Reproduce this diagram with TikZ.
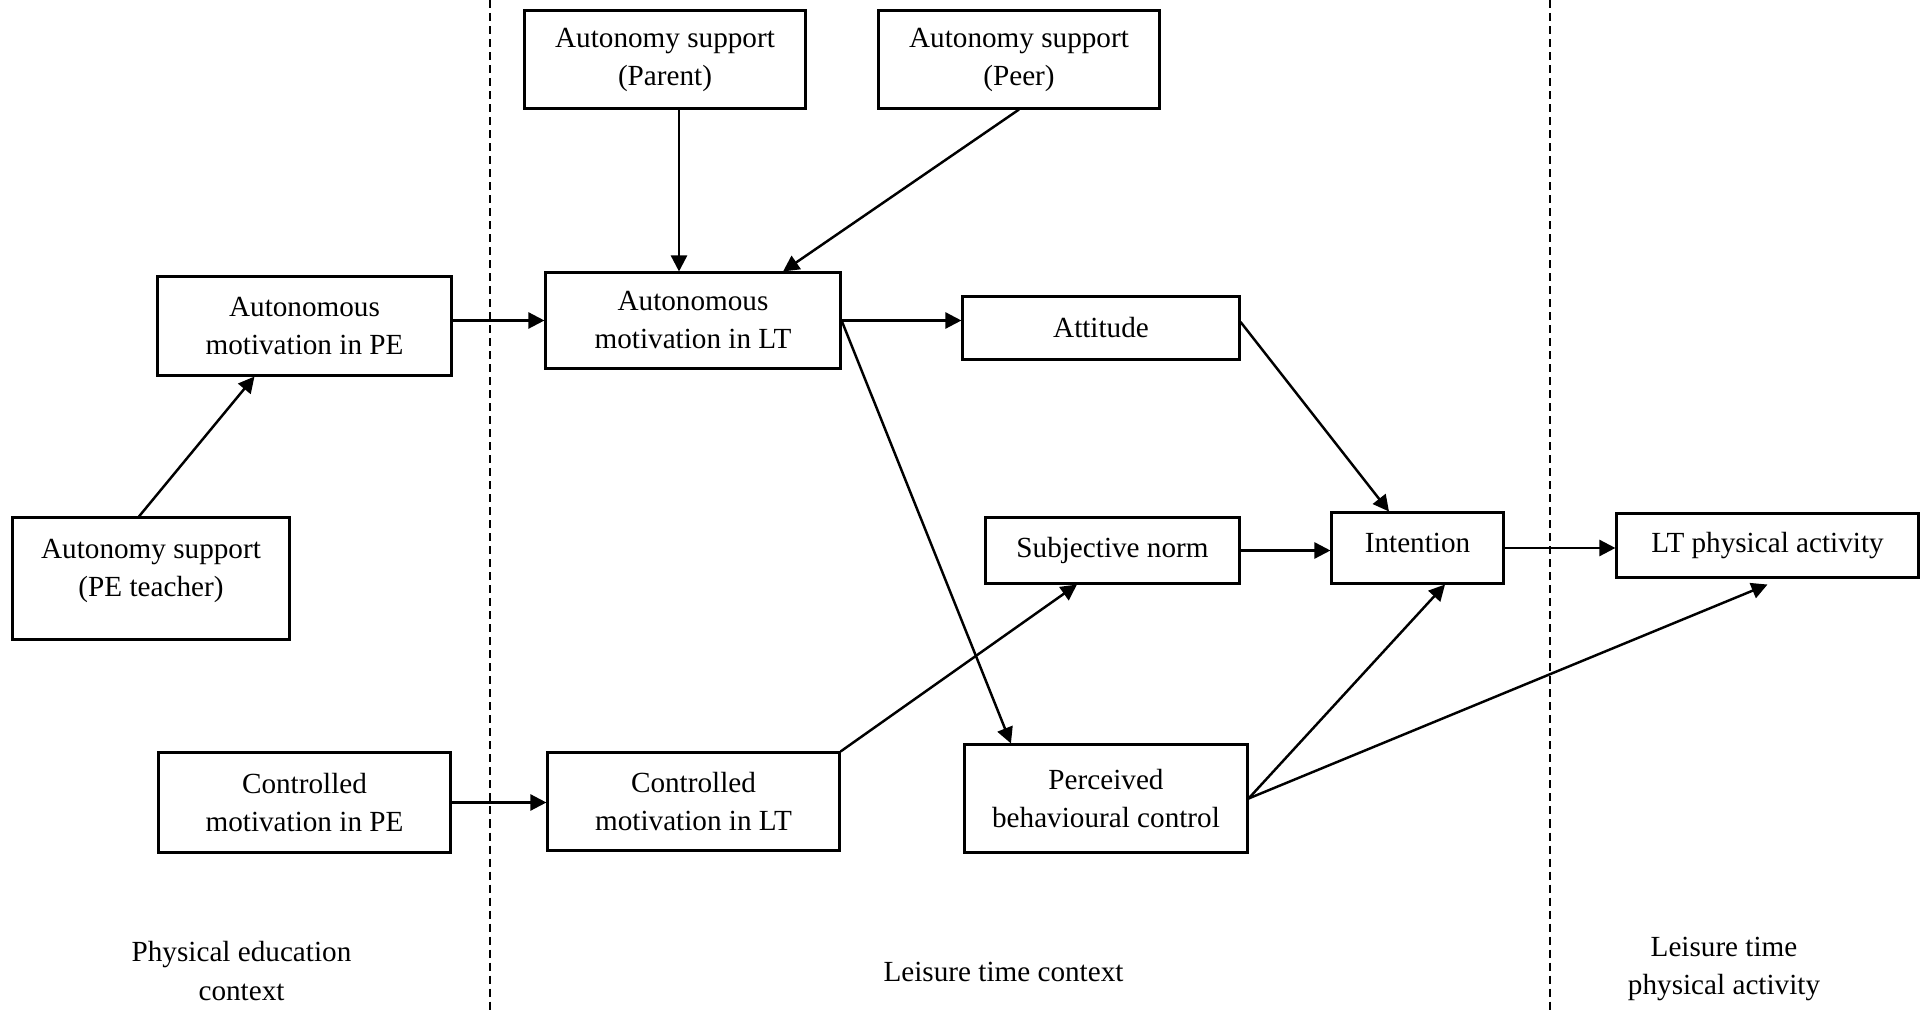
\documentclass[tikz,border=0pt]{standalone}
\usepackage{fontspec}
\setmainfont{Liberation Serif}
\usetikzlibrary{arrows.meta}

\begin{document}
\begin{tikzpicture}[x=0.01cm, y=-0.01cm]
% Styles
\tikzset{
    box/.style={draw, line width=0.85pt, align=center, inner sep=0pt,
        font=\fontsize{8.3}{10.8}\selectfont},
    arr/.style={line width=0.7pt, -{Triangle[length=0.16cm,width=0.16cm]}},
    sep/.style={line width=0.4pt, dash pattern=on 0.08cm off 0.05cm},
    ctx/.style={align=center, font=\fontsize{8.3}{10.9}\selectfont}
}
\useasboundingbox (0,0) rectangle (1921,1013);
% Context separators
\draw[sep] (490,0) -- (490,1013);
\draw[sep] (1550,0) -- (1550,1013);
% Boxes
\node[box, minimum width=2.81cm, minimum height=0.97cm] (par) at (665,59.5){Autonomy support\\(Parent)};
\node[box, minimum width=2.81cm, minimum height=0.97cm] (peer) at (1019,59.5){Autonomy support\\(Peer)};
\node[box, minimum width=2.93cm, minimum height=0.98cm] (ampe) at (304.5,326){Autonomous\\motivation in PE};
\node[box, minimum width=2.94cm, minimum height=0.95cm] (amlt) at (693,320.5){Autonomous\\motivation in LT};
\node[box, minimum width=2.76cm, minimum height=0.62cm] (att) at (1101,328){Attitude};
\node[box, minimum width=2.76cm, minimum height=1.21cm] (pet) at (151,578.5){Autonomy support\\(PE teacher)\\[-5pt]\mbox{}};
\node[box, minimum width=2.53cm, minimum height=0.65cm] (sn) at (1112.5,550.5){Subjective norm};
\node[box, minimum width=1.71cm, minimum height=0.70cm] (int) at (1417.5,548){Intention\\[-8pt]\mbox{}};
\node[box, minimum width=3.01cm, minimum height=0.63cm] (ltpa) at (1767.5,545.5){LT physical activity};
\node[box, minimum width=2.92cm, minimum height=0.99cm] (cmpe) at (304.5,802.5){Controlled\\motivation in PE};
\node[box, minimum width=2.91cm, minimum height=0.97cm] (cmlt) at (693.5,801.5){Controlled\\motivation in LT};
\node[box, minimum width=2.82cm, minimum height=1.07cm] (pbc) at (1106,798.5){Perceived\\behavioural control};
% Context labels
\node[ctx] (pectx) at (241.5,971){Physical education\\context};
\node[ctx] (ltctx) at (1003.5,972){Leisure time context};
\node[ctx] (ltpactx) at (1724,969){Leisure time\\physical activity};
% Paths
\draw[arr] ([xshift=-0.12cm]pet.north) -- ([xshift=-0.5cm]ampe.south);
\draw[arr] (amlt.west -| ampe.east) -- (amlt.west);
\draw[arr] ([xshift=0.14cm]par.south) -- ([xshift=0.14cm]par.south |- amlt.north);
\draw[arr] (peer.south) -- ([xshift=0.9cm]amlt.north);
\draw[arr] (amlt.east) -- (amlt.east -| att.west);
\draw[arr] (amlt.east) -- ([xshift=-0.95cm]pbc.north);
\draw[arr] ([yshift=0.06cm]att.east) -- ([xshift=-0.285cm]int.north);
\draw[arr] (sn.east) -- (sn.east -| int.west);
\draw[arr] (cmlt.north east) -- ([xshift=-0.355cm]sn.south);
\draw[arr] (pbc.east) -- ([xshift=0.275cm]int.south);
\draw[arr] (pbc.east) -- ([yshift=-0.06cm]ltpa.south);
\draw[arr] (int.east) -- (int.east -| ltpa.west);
\draw[arr] (cmpe.east) -- (cmpe.east -| cmlt.west);
\end{tikzpicture}
\end{document}
